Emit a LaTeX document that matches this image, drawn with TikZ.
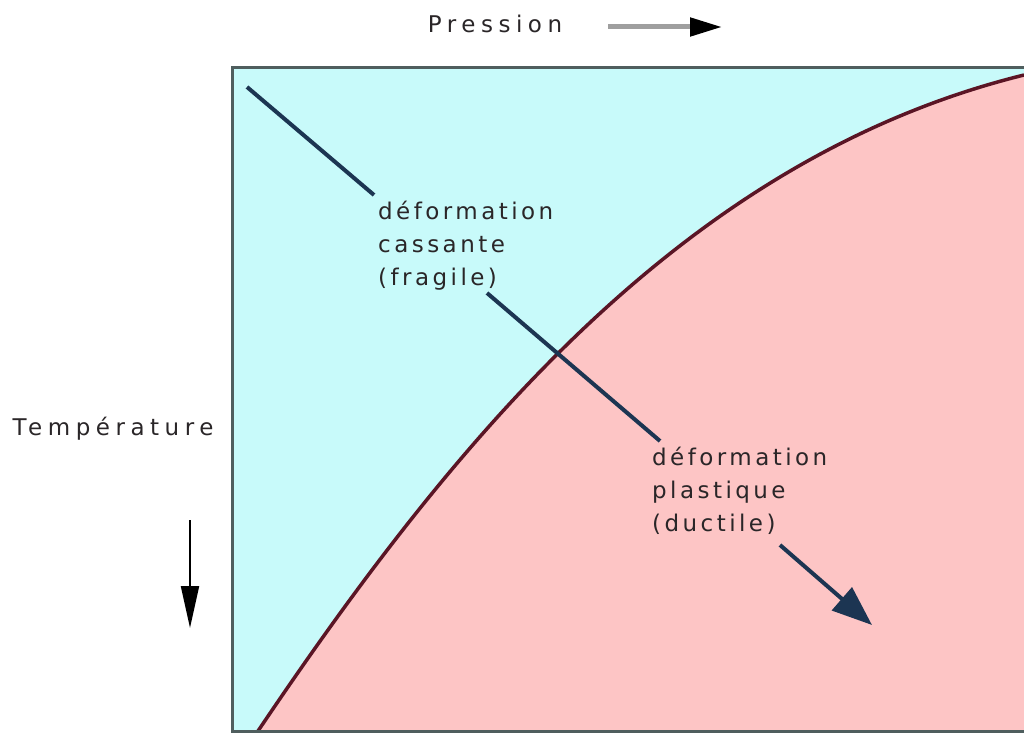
\documentclass[tikz,border=0pt]{standalone}
\usepackage{fontspec}
\setmainfont{DejaVu Sans}[LetterSpace=15]
\newfontfamily\axfont{DejaVu Sans}[LetterSpace=24]
\usetikzlibrary{arrows.meta}
\definecolor{bgcyan}{HTML}{C8FAFA}
\definecolor{bgpink}{HTML}{FDC5C5}
\definecolor{curvecol}{HTML}{5A1525}
\definecolor{framecol}{HTML}{4F5E5E}
\definecolor{navyline}{HTML}{1C3552}
\definecolor{txtdark}{HTML}{2A2628}
\tikzset{
  lbl/.style={inner sep=0pt, align=left, text=txtdark, font=\fontsize{23}{33}\selectfont},
  axlbl/.style={inner sep=0pt, text=txtdark, font=\axfont\fontsize{23}{33}\selectfont},
  navy/.style={draw=navyline, line width=4pt},
}
\begin{document}
\begin{tikzpicture}[x=1pt,y=-1pt]
\useasboundingbox (0,0) rectangle (1024,733);
% regions
\fill[bgcyan] (232,68) rectangle (1030,731);
\fill[bgpink] (258,731) .. controls (454,440) and (684,159) .. (1024,75) -- (1030,75) -- (1030,731) -- cycle;
\draw[curvecol, line width=3.5pt] (258,731) .. controls (454,440) and (684,159) .. (1024,75);
% frame
\draw[framecol, line width=3pt] (1030,68) -- (232,68) -- (232,731) -- (1030,731);
% axis labels
\node[axlbl] (pres) at (495,24) {Pression};
\coordinate (pa1) at (608,27);
\coordinate (pa2) at (722,27);
\draw[gray!75, line width=5pt, -{Triangle[length=32pt,width=18pt,color=black]}] (pa1) -- (pa2);
\node[axlbl, anchor=base] (temp) at (113,435) {Température};
\coordinate (ta1) at (190,520);
\coordinate (ta2) at (190,628);
\draw[black, line width=2pt, -{Triangle[length=42pt,width=18pt]}] (ta1) -- (ta2);
% labels
\node[lbl, anchor=north west] (fragile) at (378,201) {déformation\\cassante\\(fragile)};
\node[lbl, anchor=north west] (ductile) at (652,447) {déformation\\plastique\\(ductile)};
% diagonal path
\coordinate (d0) at (247,87);
\coordinate (d1) at (374,195);
\coordinate (d2) at (487,293);
\coordinate (d3) at (660,441);
\coordinate (d4) at (780,545);
\coordinate (d5) at (872,625);
\draw[navy] (d0) -- (d1);
\draw[navy] (d2) -- (d3);
\draw[navy, -{Triangle[length=40pt,width=30pt]}] (d4) -- (d5);
\end{tikzpicture}
\end{document}
